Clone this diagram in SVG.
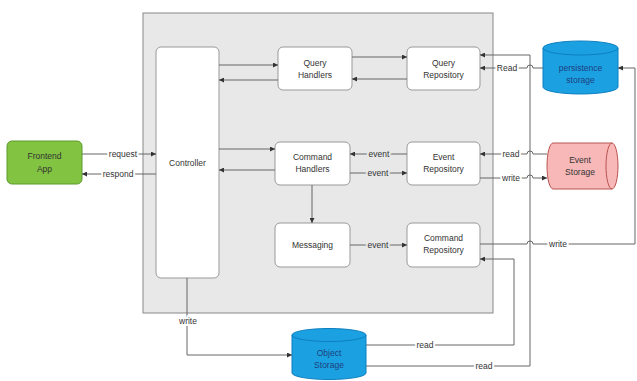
<svg xmlns="http://www.w3.org/2000/svg" width="637" height="381" viewBox="0 0 637 381">
  <defs>
    <marker id="arr" viewBox="0 0 6 6" refX="6" refY="3" markerWidth="5" markerHeight="5" markerUnits="userSpaceOnUse" orient="auto">
      <path d="M0,0 L6,3 L0,6 Z" fill="#333"/>
    </marker>
    <style>
      text { font-family: "Liberation Sans", Arial, sans-serif; font-size: 8.5px; fill: #333; text-anchor: middle; }
      .box { fill: #fff; stroke: #999; stroke-width: 1; }
      .edge { fill: none; stroke: #666; stroke-width: 1; marker-end: url(#arr); }
      .line { fill: none; stroke: #666; stroke-width: 1; }
      .lbl { paint-order: stroke; stroke: #fff; stroke-width: 4px; stroke-linejoin: round; }
      .lblg { paint-order: stroke; stroke: #e8e8e8; stroke-width: 4px; stroke-linejoin: round; }
      .db { fill: #1ba1e2; stroke: #0d7fbf; stroke-width: 1; }
      .dbt { fill: #1e3f7e; }
    </style>
  </defs>

  <!-- service boundary -->
  <rect id="service" x="143" y="13" width="350" height="300" fill="#e8e8e8" stroke="#888" stroke-width="1"/>

  <!-- nodes -->
  <g id="frontend">
    <rect x="7" y="141" width="75" height="43" rx="5" fill="#82c341" stroke="#5e9a2e"/>
    <text x="44.5" y="159">Frontend</text>
    <text x="44.5" y="172">App</text>
  </g>
  <g id="controller">
    <rect class="box" x="156" y="47" width="63" height="231" rx="5"/>
    <text x="187.5" y="166">Controller</text>
  </g>
  <g id="query-handlers">
    <rect class="box" x="278" y="47" width="74" height="43" rx="5"/>
    <text x="315" y="66">Query</text>
    <text x="315" y="78">Handlers</text>
  </g>
  <g id="query-repository">
    <rect class="box" x="407" y="47" width="73" height="43" rx="5"/>
    <text x="443.5" y="66">Query</text>
    <text x="443.5" y="78">Repository</text>
  </g>
  <g id="command-handlers">
    <rect class="box" x="275" y="142" width="75" height="43" rx="5"/>
    <text x="312.5" y="160">Command</text>
    <text x="312.5" y="172">Handlers</text>
  </g>
  <g id="event-repository">
    <rect class="box" x="407" y="142" width="73" height="43" rx="5"/>
    <text x="443.5" y="160">Event</text>
    <text x="443.5" y="172">Repository</text>
  </g>
  <g id="messaging">
    <rect class="box" x="275" y="223" width="75" height="44" rx="5"/>
    <text x="312.5" y="248">Messaging</text>
  </g>
  <g id="command-repository">
    <rect class="box" x="407" y="223" width="73" height="44" rx="5"/>
    <text x="443.5" y="241">Command</text>
    <text x="443.5" y="253">Repository</text>
  </g>
  <g id="persistence-storage">
    <path class="db" d="M543,48 A37.5,7 0 0 1 618,48 V87 A37.5,7 0 0 1 543,87 Z"/>
    <path fill="none" stroke="#0d7fbf" d="M543,48 A37.5,7 0 0 0 618,48"/>
    <text class="dbt" x="580.5" y="71">persistence</text>
    <text class="dbt" x="580.5" y="83">storage</text>
  </g>
  <g id="event-storage">
    <path d="M553,143 H612 A6,23 0 0 1 612,189 H553 A6,23 0 0 1 553,143 Z" fill="#f8b8b8" stroke="#b85450"/>
    <path fill="none" stroke="#b85450" d="M612,143 A6,23 0 0 0 612,189"/>
    <text x="580" y="163">Event</text>
    <text x="580" y="175">Storage</text>
  </g>
  <g id="object-storage">
    <path class="db" d="M292,335 A37,6.5 0 0 1 366,335 V373 A37,6.5 0 0 1 292,373 Z"/>
    <path fill="none" stroke="#0d7fbf" d="M292,335 A37,6.5 0 0 0 366,335"/>
    <text class="dbt" x="329" y="356">Object</text>
    <text class="dbt" x="329" y="368">Storage</text>
  </g>

  <!-- connectors -->
  <g id="connectors">
    <path class="edge" d="M82,154 H156"/>
    <path class="edge" d="M156,174 H82"/>
    <path class="edge" d="M219,65 H278"/>
    <path class="edge" d="M278,80 H219"/>
    <path class="edge" d="M352,57 H407"/>
    <path class="edge" d="M407,79 H352"/>
    <path class="edge" d="M219,149 H275"/>
    <path class="edge" d="M275,170 H219"/>
    <path class="edge" d="M407,154 H350"/>
    <path class="edge" d="M350,173 H407"/>
    <path class="edge" d="M312,185 V223"/>
    <path class="edge" d="M350,245 H407"/>
    <!-- object storage reads -->
    <path class="edge" d="M366,366 H530 V55 H480"/>
    <path class="edge" d="M366,345 H514 V259 H480"/>
    <!-- storage links with line jumps over x=530 -->
    <path class="edge" d="M543,68 H533 A3,3 0 0 0 527,68 H480"/>
    <path class="edge" d="M547,154 H533 A3,3 0 0 0 527,154 H480"/>
    <path class="edge" d="M480,178 H527 A3,3 0 0 1 533,178 H547"/>
    <path class="edge" d="M480,244 H527 A3,3 0 0 1 533,244 H635 V68 H618"/>
    <path class="edge" d="M187,278 V355 H292"/>

    <text class="lbl" x="123" y="157">request</text>
    <text class="lbl" x="118" y="177">respond</text>
    <text class="lblg" x="379" y="157">event</text>
    <text class="lblg" x="378" y="176">event</text>
    <text class="lblg" x="378" y="248">event</text>
    <text class="lbl" x="507" y="71">Read</text>
    <text class="lbl" x="511" y="157">read</text>
    <text class="lbl" x="511" y="181">write</text>
    <text class="lbl" x="558" y="247">write</text>
    <text class="lbl" x="188" y="324">write</text>
    <text class="lbl" x="425" y="348">read</text>
    <text class="lbl" x="484" y="369">read</text>
  </g>
</svg>
